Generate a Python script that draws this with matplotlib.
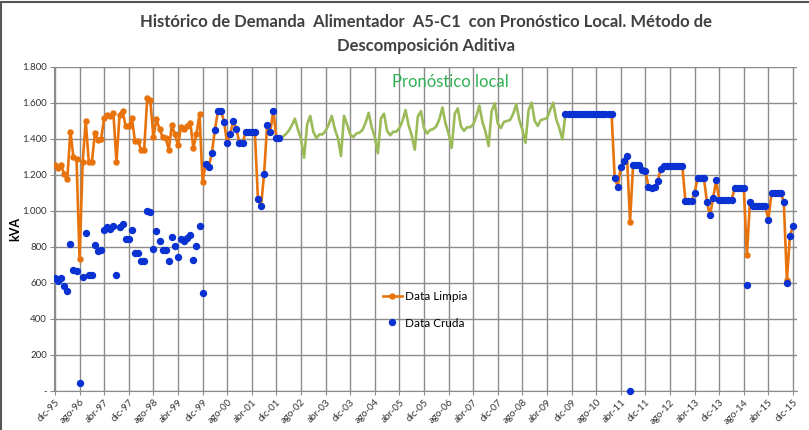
import numpy as np
import matplotlib
matplotlib.use('Agg')
import matplotlib.pyplot as plt
from matplotlib.lines import Line2D
from matplotlib.patches import Rectangle

plt.rcParams['font.family'] = ['Lato', 'DejaVu Sans']

# meses contados desde dic-95 (indice 0)
etiquetas_x = ['dic-95', 'ago-96', 'abr-97', 'dic-97', 'ago-98', 'abr-99', 'dic-99',
               'ago-00', 'abr-01', 'dic-01', 'ago-02', 'abr-03', 'dic-03', 'ago-04',
               'abr-05', 'dic-05', 'ago-06', 'abr-07', 'dic-07', 'ago-08', 'abr-09',
               'dic-09', 'ago-10', 'abr-11', 'dic-11', 'ago-12', 'abr-13', 'dic-13',
               'ago-14', 'abr-15', 'dic-15']
etiquetas_y = ['-', '200', '400', '600', '800', '1.000', '1.200', '1.400', '1.600', '1.800']

# historico dic-95 .. ene-02
limpia_hist = [1255, 1240, 1255, 1205, 1175, 1440, 1300, 1290, 730, 1270,
               1500, 1270, 1270, 1435, 1395, 1400, 1515, 1535, 1525, 1545,
               1270, 1535, 1555, 1470, 1470, 1515, 1390, 1390, 1340, 1340,
               1625, 1615, 1410, 1510, 1455, 1410, 1405, 1340, 1475, 1425,
               1365, 1465, 1455, 1470, 1490, 1350, 1425, 1540, 1160, 1260,
               1245, 1320, 1450, 1555, 1555, 1495, 1375, 1430, 1500, 1455,
               1375, 1375, 1440, 1440, 1440, 1440, 1065, 1025, 1205, 1480,
               1440, 1555, 1405, 1405]
cruda_hist = [628, 608, 628, 580, 552, 818, 673, 663, 41, 635,
              877, 645, 645, 812, 775, 780, 892, 910, 900, 914,
              645, 910, 929, 846, 846, 892, 766, 766, 720, 720,
              1002, 995, 788, 886, 831, 785, 785, 720, 855, 803,
              741, 845, 831, 850, 868, 725, 803, 914, 543, 1260,
              1245, 1320, 1450, 1555, 1555, 1495, 1375, 1430, 1500, 1455,
              1375, 1375, 1440, 1440, 1440, 1440, 1065, 1025, 1205, 1480,
              1440, 1555, 1405, 1405]

# pronostico local feb-02 .. oct-09
pronostico = [1412, 1425, 1445, 1475, 1513, 1453, 1400, 1295, 1481, 1528, 1440,
              1405, 1425, 1425, 1445, 1480, 1528, 1455, 1405, 1305, 1528, 1480, 1425,
              1410, 1430, 1435, 1450, 1490, 1545, 1465, 1410, 1320, 1515, 1540, 1445,
              1420, 1440, 1440, 1460, 1500, 1560, 1475, 1420, 1340, 1525, 1555, 1460,
              1430, 1450, 1455, 1470, 1510, 1575, 1485, 1430, 1350, 1540, 1570, 1470,
              1445, 1465, 1465, 1480, 1525, 1585, 1495, 1440, 1360, 1555, 1598, 1485,
              1460, 1495, 1500, 1505, 1540, 1592, 1505, 1450, 1379, 1560, 1602, 1500,
              1472, 1505, 1510, 1515, 1560, 1602, 1510, 1460, 1397, 1540]

# datos recientes oct-09 .. dic-15
limpia_rec = [1540, 1540, 1540, 1540, 1540, 1540, 1540, 1540, 1540, 1540, 1540, 1540, 1540, 1540, 1540, 1540,
              1185, 1135, 1245, 1275, 1305, 940, 1255, 1255, 1255, 1230,
              1220, 1135, 1125, 1135, 1165, 1235, 1250, 1250, 1250, 1250,
              1250, 1250, 1250, 1055, 1055, 1055, 1100, 1185, 1185, 1185,
              1050, 975, 1070, 1170, 1060, 1060, 1060, 1060, 1060, 1125,
              1125, 1125, 1125, 755, 1050, 1025, 1025, 1025, 1025, 1025,
              950, 1100, 1100, 1100, 1100, 1050, 615, 862, 914]
cruda_rec = [1540, 1540, 1540, 1540, 1540, 1540, 1540, 1540, 1540, 1540, 1540, 1540, 1540, 1540, 1540, 1540,
             1185, 1135, 1245, 1275, 1305, 0, 1255, 1255, 1255, 1230,
             1220, 1135, 1125, 1135, 1165, 1235, 1250, 1250, 1250, 1250,
             1250, 1250, 1250, 1055, 1055, 1055, 1100, 1185, 1185, 1185,
             1050, 975, 1070, 1170, 1060, 1060, 1060, 1060, 1060, 1125,
             1125, 1125, 1125, 590, 1050, 1025, 1025, 1025, 1025, 1025,
             950, 1100, 1100, 1100, 1100, 1050, 600, 862, 914]

naranja = '#E8730C'
azul = '#0A32D2'
verde = '#9BBB59'

x_hist = np.arange(len(limpia_hist))
x_pron = np.arange(len(pronostico)) + len(limpia_hist)
x_rec = np.arange(len(limpia_rec)) + x_pron[-1]

fig = plt.figure(figsize=(8.09, 4.30), dpi=100)
ax = fig.add_axes([0.0667, 0.0914, 0.9185, 0.7528])

ax.plot(x_hist, limpia_hist, color=naranja, lw=1.9, marker='o', ms=3.6, zorder=3)
ax.plot(x_rec, limpia_rec, color=naranja, lw=1.9, marker='o', ms=3.6, zorder=3)
ax.plot(x_pron, pronostico, color=verde, lw=1.9, zorder=3)
ax.plot(x_hist, cruda_hist, ls='none', marker='o', ms=4.3, color=azul, zorder=4)
ax.plot(x_rec, cruda_rec, ls='none', marker='o', ms=4.3, color=azul, zorder=4, clip_on=False)

ax.set_xlim(-0.33, 241.3)
ax.set_ylim(0, 1800)
ax.set_xticks(np.arange(0, 241, 8))
ax.set_xticklabels(etiquetas_x, rotation=45, ha='right', rotation_mode='anchor',
                   fontsize=7, color='#333333')
ax.set_yticks(np.arange(0, 1801, 200))
ax.set_yticklabels(etiquetas_y, fontsize=7, color='#333333')
ax.tick_params(axis='both', length=3, color='#8c8c8c', pad=2)
ax.grid(True, color='#8c8c8c', lw=1.0)
ax.set_axisbelow(True)
for s in ['top', 'right']:
    ax.spines[s].set_visible(False)
for s in ['left', 'bottom']:
    ax.spines[s].set_color('#8c8c8c')
ax.set_ylabel('kVA', fontsize=9, fontweight='bold', labelpad=1)

ax.text(0.533, 0.954, 'Pronóstico local', transform=ax.transAxes, color='#2FB153',
        fontsize=12, ha='center', va='center')

handles = [Line2D([], [], color=naranja, lw=1.9, marker='o', ms=3.6),
           Line2D([], [], ls='none', marker='o', ms=4.3, color=azul)]
ax.legend(handles, ['Data Limpia', 'Data Cruda'], loc='upper left',
          bbox_to_anchor=(0.428, 0.34), frameon=False, fontsize=8.5,
          labelspacing=1.3, handlelength=1.6, handletextpad=0.3)

fig.text(0.527, 0.921, 'Histórico de Demanda  Alimentador  A5-C1  con Pronóstico Local. Método de\n'
         'Descomposición Aditiva', ha='center', va='center', fontsize=12,
         fontweight='bold', color='#404040', linespacing=1.55)

fig.patches.append(Rectangle((0.001, -0.01), 1.2, 1.005, transform=fig.transFigure,
                             fill=False, edgecolor='#555555', lw=1.5))

fig.savefig('out.png', dpi=100)
